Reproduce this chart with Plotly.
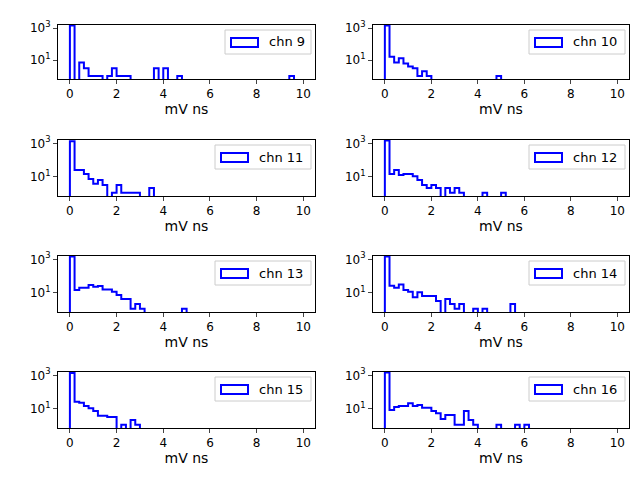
import plotly.graph_objects as go

# bin edges 0..10, width 0.2 (50 bins); counts
edges = [round(i * 0.2, 1) for i in range(51)]

def pad(vals):
    return vals + [0] * (50 - len(vals))

chn9 = pad([1500, 0, 7, 3, 1, 1, 1, 0, 1, 3, 1, 1, 1, 0, 0, 0, 0, 0, 3, 0, 3, 0, 0, 1]
           + [0] * 23 + [1])
chn10 = pad([1500, 16, 7, 13, 6, 4, 3, 1, 2, 1, 0, 0, 0, 0, 0, 0, 0, 0, 0, 0, 0, 0, 0, 0, 1])
chn11 = pad([1350, 24, 24, 14, 7, 3.5, 6, 3, 0, 1, 3, 1, 1, 1, 1, 0, 0, 2])
chn12 = pad([1500, 14, 24, 12, 14, 14, 10, 6, 3, 2, 3, 2, 0, 2, 1, 2, 1, 0, 0, 0, 0, 1,
             0, 0, 0, 1])
chn13 = pad([1500, 14, 19, 19, 28, 22, 24, 15, 15, 11, 7, 4, 4, 1, 2, 1, 0, 0, 0, 0, 0, 0,
             0, 0, 1])
chn14 = pad([1500, 25, 19, 30, 14, 11, 5, 10, 6, 6, 6, 3, 0, 4, 2, 1, 2, 0, 0, 1, 0, 1,
             0, 0, 0, 0, 0, 2])
chn15 = pad([1400, 25, 22, 14, 10, 7, 3.5, 3.5, 3, 3, 0, 1, 0, 2, 1])
chn16 = pad([1500, 8, 12, 14, 14, 20, 14, 16, 11, 11, 7, 5, 2.3, 4, 4, 1, 1, 7, 2, 1, 0,
             0, 0, 0, 1, 0, 0, 0, 1, 0, 1])

series = [("chn 9", chn9), ("chn 10", chn10), ("chn 11", chn11), ("chn 12", chn12),
          ("chn 13", chn13), ("chn 14", chn14), ("chn 15", chn15), ("chn 16", chn16)]

W, H = 640, 480
col_px = [(50, 307), (365, 621)]
row_px = [(17, 71), (132, 188), (248, 304), (364, 420)]
FLOOR = 1e-3

fig = go.Figure()
shapes = []
annotations = []

for i, (name, counts) in enumerate(series):
    r, c = divmod(i, 2)
    k = i + 1
    xa = "x" if k == 1 else f"x{k}"
    ya = "y" if k == 1 else f"y{k}"
    ys = [FLOOR] + [v if v > 0 else FLOOR for v in counts] + [FLOOR]
    xs = [edges[0]] + edges[:-1] + [edges[-1]]
    fig.add_trace(go.Scatter(x=xs, y=ys, mode="lines", line=dict(color="blue", width=2, shape="hv"),
                             xaxis=xa, yaxis=ya, showlegend=False))
    x0, x1 = col_px[c]
    y0, y1 = row_px[r]
    fig.layout[f"xaxis{'' if k == 1 else k}"] = dict(
        domain=[x0 / W, x1 / W], anchor=ya, range=[-0.51, 10.5], automargin=False,
        tickvals=[0, 2, 4, 6, 8, 10], ticks="outside", ticklen=4,
        showline=True, linecolor="black", mirror=True, showgrid=False, zeroline=False,
        title=dict(text="mV ns", standoff=2))
    fig.layout[f"yaxis{'' if k == 1 else k}"] = dict(
        domain=[1 - y1 / H, 1 - y0 / H], anchor=xa, type="log", range=[-0.19, 3.2],
        automargin=False,
        tickvals=[10, 1000], ticktext=["10<sup>1</sup>", "10<sup>3</sup>"],
        ticks="outside", ticklen=4,
        showline=True, linecolor="black", mirror=True, showgrid=False, zeroline=False)
    # legend box drawn by hand, matplotlib style
    lw = 86 if len(name) == 5 else 96
    fx1, fx0 = x1 - 4, x1 - 4 - lw
    fy0, fy1 = y0 + 5, y0 + 29
    shapes.append(dict(type="rect", xref="paper", yref="paper",
                       x0=fx0 / W, x1=fx1 / W, y0=1 - fy1 / H, y1=1 - fy0 / H,
                       line=dict(color="#cccccc", width=1), fillcolor="white"))
    shapes.append(dict(type="rect", xref="paper", yref="paper",
                       x0=(fx0 + 6) / W, x1=(fx0 + 33) / W,
                       y0=1 - (fy0 + 17) / H, y1=1 - (fy0 + 8) / H,
                       line=dict(color="blue", width=2), fillcolor="rgba(0,0,0,0)"))
    annotations.append(dict(xref="paper", yref="paper", x=(fx0 + 42) / W, y=1 - (fy0 + 12) / H,
                            text=name, showarrow=False, xanchor="left", yanchor="middle",
                            font=dict(size=13)))

fig.update_layout(width=W, height=H, margin=dict(l=0, r=0, t=0, b=0),
                  plot_bgcolor="white", paper_bgcolor="white",
                  font=dict(family="DejaVu Sans", size=12, color="black"),
                  shapes=shapes, annotations=annotations)
fig.write_html("out.html")
